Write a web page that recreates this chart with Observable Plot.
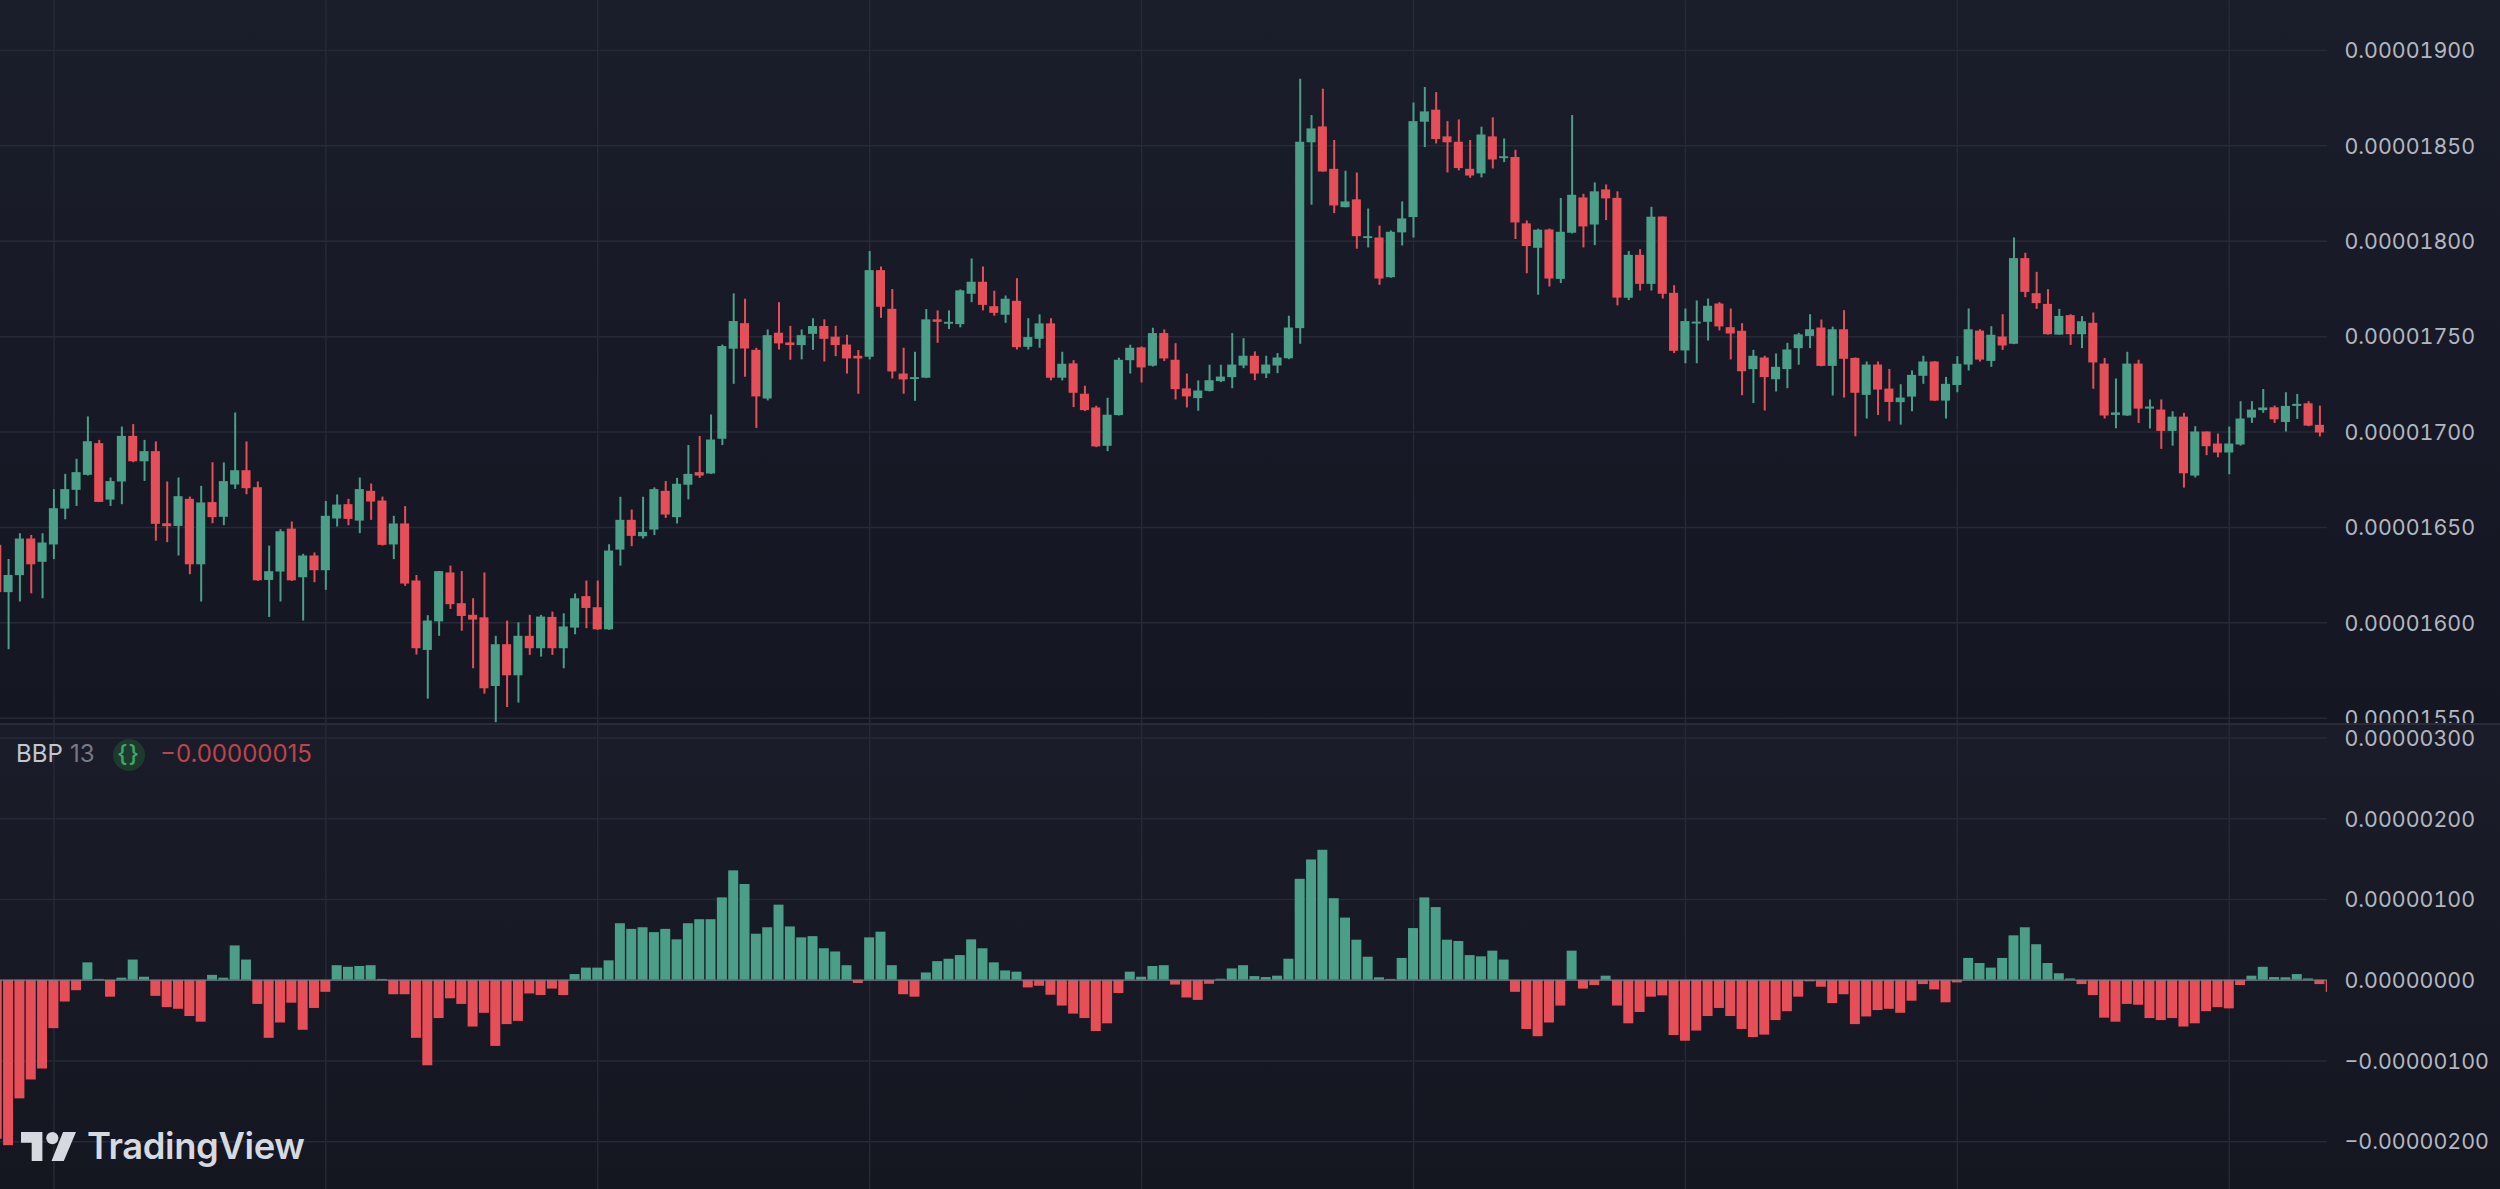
<!DOCTYPE html>
<html>
<head>
<meta charset="utf-8">
<script src="https://cdn.jsdelivr.net/npm/d3@7"></script>
<script src="https://cdn.jsdelivr.net/npm/@observablehq/plot@0.6"></script>
<style>
  html, body { margin: 0; padding: 0; background: #161925; }
  #chart { position: relative; width: 2500px; height: 1189px; overflow: hidden; font-family: Inter, sans-serif; }
  #main, #lower { position: absolute; left: 0; width: 2500px; }
  #main { top: 0; height: 723px; background: linear-gradient(#1a1d2a, #141722); }
  #lower { top: 725px; height: 464px; background: linear-gradient(#1a1d29, #141620); }
  #sep { position: absolute; left: 0; top: 723px; width: 2500px; height: 2px; background: #2a2d39; }
  .leg { position: absolute; top: 741px; line-height: 26px; font-size: 24px; white-space: nowrap; }
  #badge { position: absolute; left: 112.5px; top: 738.7px; width: 32px; height: 32px; border-radius: 50%; background: #1e3a2e; color: #3fa766; font-size: 24px; font-weight: 500; line-height: 30px; text-align: center; letter-spacing: 1px; }
  #logo { position: absolute; left: 21px; top: 1132px; width: 55px; height: 29px; }
  #logoText { position: absolute; left: 87px; top: 1126px; font-size: 36.4px; line-height: 40px; font-weight: 600; color: #d7d9e0; letter-spacing: -0.4px; }
</style>
</head>
<body>
<div id="chart">
  <div id="main"></div>
  <div id="sep"></div>
  <div id="lower"></div>
  <div class="leg" style="left:16px;color:#c3c6ce">BBP</div>
  <div class="leg" style="left:70px;color:#777a85">13</div>
  <div id="badge">{}</div>
  <div class="leg" style="left:160px;color:#bd444c">−0.00000015</div>
  <svg id="logo" viewBox="0 0 36 19" preserveAspectRatio="none"><path fill="#d7d9e0" d="M14 19H7V7H0V0h14v19zM28 19h-8l7.5-19h8.5L28 19z"/><circle fill="#d7d9e0" cx="20.5" cy="4" r="4"/></svg>
  <div id="logoText">TradingView</div>
</div>
<script>
// Prices in units of 0.00000001; first candle sits just left of the visible edge.
const open = [
1640.6,1615.8,1624.7,1643.9,1631.7,1640.8,1659.6,1669.4,1677.3,1693.9,
1664.3,1673.8,1697.7,1684.4,1689.7,1651.9,1650.5,1664.7,1630.4,1663.0,
1655.3,1672.2,1679.7,1670.8,1622.2,1626.6,1649.1,1623.6,1635.0,1627.3,
1654.4,1661.9,1653.3,1668.9,1663.8,1640.8,1651.8,1621.9,1585.5,1600.5,
1626.1,1610.0,1603.9,1602.6,1566.6,1588.5,1572.2,1592.9,1586.4,1602.8,
1586.4,1597.2,1613.7,1607.9,1596.3,
1638.1,1653.7,1645.1,1648.6,1668.9,1655.1,1672.1,1678.7,1678.0,1696.2,
1743.4,1756.8,1742.8,1717.3,1751.8,1746.7,1745.3,1751.2,1755.3,1749.7,
1745.6,1739.7,1739.2,1784.6,1764.3,1730.4,1727.5,1728.2,1758.8,1756.5,
1756.3,1772.2,1778.5,1765.7,1761.2,1768.5,1744.4,1748.6,1756.7,1728.2,
1735.7,1719.8,1712.6,1692.5,1708.6,1737.4,1744.1,1734.5,1751.6,1737.6,
1722.6,1717.5,
1721.3,1726.4,1728.5,1734.6,1739.7,1730.4,1734.6,1738.4,1754.2,1851.6,
1859.9,1837.7,1817.6,1821.7,1801.4,1801.7,1780.9,1804.4,1812.4,1862.4,
1868.7,1854.7,1851.9,1837.7,1835.3,1854.7,1843.3,1843.9,1809.1,1796.3,
1805.9,1780.0,1804.2,1822.7,1808.5,1826.9,1822.5,1770.1,1792.6,1777.4,
1812.7,1772.7,1742.5,1756.6,1757.5,1767.1,1754.7,1752.8,1732.7,1738.8,
1727.4,1732.7,1743.7,
1750.1,1754.5,1734.4,1753.6,1738.6,1719.2,1735.1,1722.5,1715.4,1718.3,
1729.2,1736.7,1716.2,1724.4,1735.1,1752.9,1737.0,1749.8,1746.0,1790.9,
1772.5,1766.9,1750.8,1761.0,1751.0,1757.0,1735.6,1708.7,1708.4,1735.6,
1712.0,1711.5,1700.3,1707.8,1676.9,1700.0,1693.7,1689.0,1693.2,1707.3,
1711.2,1712.7,1705.0,1713.4,1714.8,1703.5];
const close = [
1615.8,1624.8,1643.9,1630.4,1641.8,1659.8,1669.8,1678.7,1694.9,1663.1,
1674.0,1697.7,1684.4,1689.7,1651.6,1650.4,1666.1,1630.4,1662.8,1655.1,
1674.0,1679.7,1670.3,1622.0,1626.8,1647.7,1622.0,1635.0,1627.3,1655.8,
1661.7,1654.2,1669.8,1663.3,1640.6,1651.8,1620.3,1586.4,1600.9,1626.8,
1609.5,1603.3,1601.4,1565.4,1588.5,1572.2,1592.9,1586.4,1603.0,1586.4,
1597.8,1612.6,1607.5,1596.3,1637.6,
1653.7,1645.3,1647.4,1669.8,1656.5,1672.6,1677.8,1676.9,1695.8,1744.8,
1757.9,1743.5,1718.4,1750.5,1746.2,1745.3,1750.5,1755.3,1748.6,1745.3,
1738.3,1738.3,1784.6,1765.4,1731.5,1727.3,1728.5,1758.8,1757.5,1757.2,
1774.0,1778.5,1766.4,1762.2,1769.6,1744.2,1749.5,1756.7,1728.2,1735.5,
1720.3,1711.2,1692.2,1708.8,1737.6,1743.9,1733.6,1751.6,1738.3,1722.2,
1718.4,1721.5,
1726.9,1728.8,1735.1,1739.7,1730.4,1735.1,1738.8,1754.5,1851.9,1858.9,
1836.3,1818.5,1820.6,1802.4,1802.3,1780.2,1804.7,1811.7,1862.7,1867.8,
1853.3,1851.6,1838.1,1834.2,1855.7,1842.6,1844.2,1809.6,1797.2,1805.8,
1780.2,1804.7,1824.1,1807.5,1825.9,1822.2,1770.2,1792.6,1777.4,1812.6,
1772.2,1742.3,1757.9,1757.5,1765.9,1755.1,1751.4,1731.6,1739.7,1728.5,
1733.9,1743.0,1750.9,
1753.6,1734.4,1753.6,1738.1,1720.3,1735.1,1722.0,1715.5,1717.8,1729.7,
1736.7,1716.2,1725.0,1735.5,1753.6,1737.7,1750.7,1745.1,1790.9,1773.2,
1767.3,1751.0,1760.6,1751.0,1757.8,1736.2,1708.4,1710.0,1735.6,1712.0,
1713.1,1700.3,1707.8,1678.1,1700.0,1692.3,1689.0,1693.7,1706.8,1711.5,
1712.6,1706.4,1713.4,1714.5,1703.1,1699.5];
const high = [
1641.4,1633.2,1646.7,1645.8,1646.7,1669.8,1677.8,1685.7,1707.9,1695.6,
1675.9,1702.6,1703.9,1695.6,1694.8,1673.8,1675.9,1665.9,1671.5,1683.9,
1683.8,1710.0,1694.8,1673.8,1640.2,1648.8,1652.8,1635.9,1636.6,1663.6,
1667.0,1664.7,1675.9,1672.7,1665.9,1655.8,1660.9,1624.8,1603.7,1626.9,
1629.7,1626.9,1612.6,1626.1,1592.9,1600.9,1600.0,1603.9,1603.9,1605.6,
1604.7,1615.1,1621.9,1621.9,1640.9,
1665.8,1659.1,1665.8,1670.7,1674.0,1675.7,1692.9,1697.6,1708.9,1745.6,
1772.4,1769.6,1743.9,1753.5,1767.8,1755.4,1753.5,1759.4,1758.8,1755.4,
1750.7,1742.7,1794.6,1786.5,1774.7,1743.9,1741.8,1764.2,1763.5,1763.5,
1774.5,1790.7,1786.5,1773.8,1771.3,1780.4,1759.4,1761.4,1759.4,1741.8,
1737.4,1724.0,1713.5,1717.7,1738.7,1745.5,1744.6,1754.4,1753.5,1746.3,
1730.4,1726.8,
1735.0,1735.0,1751.6,1748.9,1742.0,1739.7,1741.1,1760.7,1884.9,1865.9,
1879.7,1852.8,1836.7,1835.8,1816.9,1807.9,1805.4,1820.6,1872.5,1880.6,
1877.9,1862.7,1863.6,1852.8,1859.8,1864.7,1853.6,1847.7,1810.6,1806.3,
1806.4,1822.4,1865.9,1824.6,1830.6,1829.5,1825.9,1794.6,1795.6,1817.8,
1812.7,1776.7,1764.5,1768.7,1769.7,1767.8,1764.5,1756.8,1742.8,1739.7,
1740.9,1746.5,1751.7,
1761.5,1758.7,1755.0,1763.6,1738.8,1736.7,1736.7,1732.8,1724.8,1732.0,
1739.7,1736.9,1728.6,1739.5,1764.5,1753.6,1755.2,1761.5,1801.7,1793.7,
1783.7,1774.6,1764.3,1761.5,1760.5,1762.4,1738.6,1727.8,1741.8,1737.6,
1716.8,1716.8,1710.6,1709.8,1702.8,1700.0,1698.9,1702.6,1715.9,1715.9,
1722.3,1713.6,1720.6,1719.7,1715.9,1713.6];
const low = [
1615.2,1585.9,1610.9,1615.2,1612.6,1633.1,1654.0,1661.0,1676.9,1663.0,
1661.0,1661.9,1683.9,1674.1,1642.8,1642.0,1635.0,1625.2,1610.9,1651.9,
1650.9,1669.9,1667.1,1621.7,1602.8,1610.9,1621.7,1600.9,1621.0,1617.0,
1650.2,1650.9,1646.7,1653.7,1640.2,1633.1,1619.1,1583.1,1560.0,1592.9,
1607.0,1595.6,1575.9,1562.6,1547.6,1555.6,1557.9,1582.9,1582.0,1582.9,
1575.9,1593.7,1596.9,1596.0,1596.0,
1629.7,1639.9,1643.9,1645.7,1654.7,1651.8,1664.4,1675.7,1677.8,1692.9,
1725.0,1728.7,1701.9,1716.3,1743.0,1737.6,1737.8,1742.8,1736.7,1739.5,
1730.4,1719.8,1737.8,1759.6,1727.8,1719.8,1716.1,1728.0,1746.5,1753.7,
1754.6,1767.8,1763.5,1760.7,1757.0,1743.0,1743.0,1743.9,1726.8,1726.8,
1712.8,1710.7,1691.8,1689.7,1708.4,1730.4,1725.7,1734.1,1736.9,1716.8,
1712.6,1710.9,
1721.0,1725.9,1722.7,1733.2,1726.9,1728.0,1730.6,1737.9,1746.0,1818.9,
1836.2,1814.5,1817.5,1795.8,1796.5,1776.9,1780.6,1797.5,1801.7,1849.1,
1851.0,1835.8,1836.9,1833.0,1833.2,1837.9,1841.2,1800.9,1783.0,1771.7,
1776.0,1777.8,1803.8,1796.5,1797.7,1810.8,1766.1,1768.9,1773.9,1773.9,
1769.7,1741.1,1735.8,1735.8,1747.7,1753.0,1737.8,1719.0,1714.9,1711.0,
1721.0,1722.7,1735.0,
1743.7,1734.2,1718.9,1717.8,1697.5,1706.8,1708.7,1705.4,1703.6,1710.6,
1725.0,1716.1,1706.8,1720.6,1732.0,1736.7,1733.9,1742.8,1745.8,1770.4,
1764.3,1750.8,1750.7,1745.4,1743.7,1722.4,1706.8,1701.7,1708.2,1704.5,
1701.6,1690.9,1692.6,1670.6,1675.9,1687.6,1686.5,1677.6,1692.6,1704.5,
1709.8,1704.5,1700.0,1706.6,1702.8,1697.4];
// BBP 13 histogram, same units; the last bar is cut by the price axis.
const bbp = [
-197,-205,-147,-123.6,-110,-60,-27,-13,21.5,1,-21,2.5,25,3.7,-20,-34,-36,-45,-52,6,
2.5,42.5,25,-30,-72,-53,-28.5,-62,-35,-15,18,16,17,18,1,-18,-18,-72,-106,-47.5,
-23,-30,-58,-41,-82,-55,-51,-17,-19,-11,-19,7,15,15,24,
70,63,65,59,63,50,70,75,75,102,135.5,118.6,57,65,93,66,52.5,54,39,35,
18,-4,52.5,59.5,18,-18,-21,9,23,26,30.5,50,39,21.5,11.5,10,-9.5,-7.5,-18.6,-32,
-42,-47.5,-63.6,-54,-16.5,10,3.7,17,18,-6,-22,-25,
-5,1.2,14,18,4.5,3.3,5,26,125,149,161,101,77,49.6,28.5,3,1,27,64,102,
90,49.6,48,30.5,29,36,25,-15,-61,-70,-53,-32,36,-11,-6.6,5,-32,-54,-40,-21,
-19.4,-68.6,-75.6,-63,-45,-35,-45,-61,-71,-68,-50,-39,-21,
-2,-8.7,-29,-18,-55,-45.5,-37.6,-36,-41,-26,-5.4,-12,-28,-3.3,27,20.7,15,27,55,65,
44,20.7,8,1.6,-5.4,-19,-47,-52,-30,-31,-47.5,-50,-47.5,-58,-54,-39,-34,-35.5,-6.6,5,
16,3.3,3,7,1.6,-5.4,-15];

const priceTicks = [1550,1600,1650,1700,1750,1800,1850,1900];
const bbpTicks = [-200,-100,0,100,200,300];
const gridBars = [4,28,52,76,100,124,148,172,196];

const green = "#4b9e88", red = "#e74f58", gridColor = "#262a36", labelColor = "#b4b7c0";
const firstBar = -1, bodyHalf = 0.4, histHalf = 0.44;
const xDomain = [-0.713, 204.67];

const candles = high.map((h, k) => ({
  i: k + firstBar, high: h, low: low[k], open: open[k], close: close[k],
  color: close[k] >= open[k] ? green : red
}));
const hist = bbp.map((v, k) => ({ i: k + firstBar, v, color: v >= 0 ? green : red }));
const fmt = d => (d < 0 ? "−" : "") + (Math.abs(d) / 1e8).toFixed(8);

function pane(height, yDomain, ticks, marks) {
  return Plot.plot({
    width: 2500, height,
    marginTop: 0, marginBottom: 0, marginLeft: 0, marginRight: 173,
    style: { background: "transparent", overflow: "hidden", fontFamily: "Inter, sans-serif", fontSize: "21.4px" },
    x: { domain: xDomain, axis: null },
    y: { domain: yDomain, axis: null },
    marks: [
      Plot.ruleX(gridBars, { x: d => d, stroke: gridColor, strokeWidth: 1.5 }),
      Plot.ruleY(ticks, { y: d => d, stroke: gridColor, strokeWidth: 1.5 }),
      ...marks,
      Plot.axisY({ anchor: "right", ticks, tickSize: 0, tickPadding: 17, dy: 1, tickFormat: fmt, fontSize: 21.4, fill: labelColor, label: null })
    ]
  });
}

document.getElementById("main").append(pane(723, [1547.2, 1926.2], priceTicks, [
  Plot.ruleX(candles, { x: "i", y1: "low", y2: "high", stroke: "color", strokeWidth: 2, clip: true }),
  Plot.rect(candles, { x1: d => d.i - bodyHalf, x2: d => d.i + bodyHalf, y1: "open", y2: d => Math.abs(d.close - d.open) < 1 ? d.open + 1 : d.close, fill: "color", clip: true })
]));

document.getElementById("lower").append(pane(464, [-259.3, 315.6], bbpTicks, [
  Plot.rect(hist, { x1: d => d.i - histHalf, x2: d => d.i + histHalf, y1: 0, y2: "v", fill: "color", clip: true }),
  Plot.ruleY([0], { y: d => d, stroke: "#787b86", strokeWidth: 1.5, strokeOpacity: 0.75 })
]));
</script>
</body>
</html>
